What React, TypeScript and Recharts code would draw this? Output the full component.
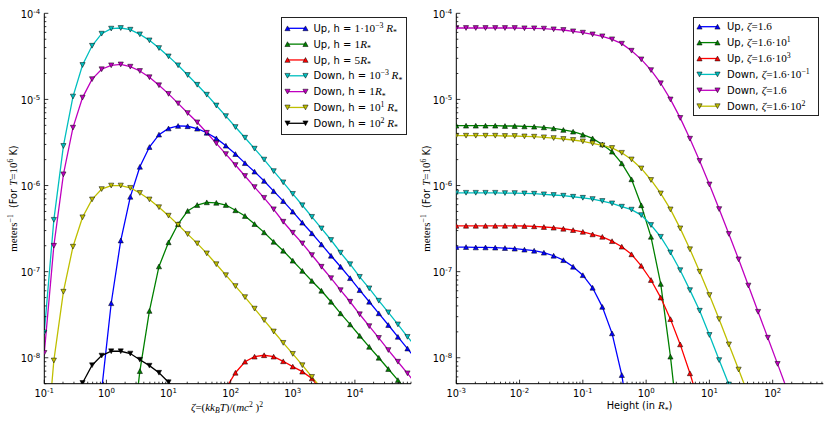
import React from "react";
import { LineChart, Line, XAxis, YAxis, Legend } from "recharts";

// x grids (log spaced sample points of the curves)
const zeta = [
  0.1, 0.1425, 0.2031, 0.2894, 0.4125, 0.5878, 0.8377, 1.194, 1.701, 2.424,
  3.455, 4.924, 7.017, 10, 14.25, 20.31, 28.94, 41.25, 58.78, 83.77,
  119.4, 170.1, 242.4, 345.5, 492.4, 701.7, 1000, 1425, 2031, 2894,
  4125, 5878, 8377, 11940, 17010, 24240, 34550, 49240, 70170, 100000,
];
const height = [
  0.001, 0.001425, 0.002031, 0.002894, 0.004125, 0.005878, 0.008377, 0.01194, 0.01701, 0.02424,
  0.03455, 0.04924, 0.07017, 0.1, 0.1425, 0.2031, 0.2894, 0.4125, 0.5878, 0.8377,
  1.194, 1.701, 2.424, 3.455, 4.924, 7.017, 10, 14.25, 20.31, 28.94,
  41.25, 58.78, 83.77, 119.4, 170.1, 242.4, 345.5, 492.4, 701.7,
];

// left panel: rate vs zeta, one series per height
const upH1e3 = [
  null, null, null, null, null, null, 4.2e-9, 4.3e-8, 2.3e-7, 7.4e-7,
  1.65e-6, 2.8e-6, 3.9e-6, 4.6e-6, 4.92e-6, 4.88e-6, 4.57e-6, 4.1e-6, 3.53e-6, 2.9e-6,
  2.32e-6, 1.82e-6, 1.45e-6, 1.13e-6, 8.6e-7, 6.6e-7, 4.97e-7, 3.7e-7, 2.79e-7, 2.07e-7,
  1.53e-7, 1.14e-7, 8.4e-8, 6.1e-8, 4.47e-8, 3.28e-8, 2.4e-8, 1.75e-8, 1.28e-8, 9.3e-9,
];
const upH1 = [
  null, null, null, null, null, null, null, null, null, 7.9e-10,
  7.0e-9, 3.5e-8, 1.15e-7, 2.19e-7, 3.57e-7, 5.07e-7, 5.94e-7, 6.38e-7, 6.3e-7, 5.94e-7,
  5.16e-7, 4.43e-7, 3.57e-7, 2.86e-7, 2.22e-7, 1.75e-7, 1.34e-7, 1.02e-7, 7.8e-8, 6.0e-8,
  4.47e-8, 3.28e-8, 2.44e-8, 1.8e-8, 1.34e-8, 1.0e-8, 7.4e-9, 5.5e-9, 4.1e-9, null,
];
const upH5 = [
  null, null, null, null, null, null, null, null, null, null,
  null, null, null, null, null, null, null, null, null, 4.4e-9,
  6.7e-9, 9.0e-9, 1.03e-8, 1.07e-8, 1.03e-8, 9.1e-9, 7.9e-9, 6.9e-9, 5.75e-9, 4.1e-9,
  null, null, null, null, null, null, null, null, null, null,
];
const downH1e3 = [
  1.97e-8, 4.0e-7, 2.88e-6, 1.08e-5, 2.51e-5, 4.2e-5, 5.8e-5, 6.64e-5, 6.75e-5, 6.45e-5,
  5.7e-5, 4.85e-5, 3.95e-5, 3.16e-5, 2.49e-5, 1.92e-5, 1.48e-5, 1.135e-5, 8.5e-6, 6.4e-6,
  4.78e-6, 3.59e-6, 2.68e-6, 2.0e-6, 1.47e-6, 1.09e-6, 8.0e-7, 5.9e-7, 4.33e-7, 3.18e-7,
  2.33e-7, 1.66e-7, 1.22e-7, 8.7e-8, 6.4e-8, 4.6e-8, 3.37e-8, 2.44e-8, 1.75e-8, 1.29e-8,
];
const downH1 = [
  1.14e-8, 2.0e-7, 1.35e-6, 4.7e-6, 1.05e-5, 1.72e-5, 2.24e-5, 2.49e-5, 2.55e-5, 2.4e-5,
  2.14e-5, 1.81e-5, 1.46e-5, 1.16e-5, 9.0e-6, 6.95e-6, 5.42e-6, 4.1e-6, 3.09e-6, 2.32e-6,
  1.73e-6, 1.29e-6, 9.6e-7, 7.2e-7, 5.3e-7, 3.8e-7, 2.83e-7, 2.13e-7, 1.56e-7, 1.14e-7,
  8.4e-8, 6.1e-8, 4.47e-8, 3.2e-8, 2.33e-8, 1.7e-8, 1.23e-8, 9.0e-9, 6.6e-9, 4.8e-9,
];
const downH10 = [
  4.8e-10, 9.3e-9, 5.85e-8, 1.95e-7, 4.28e-7, 6.9e-7, 9.1e-7, 1.0e-6, 1.0e-6, 9.4e-7,
  8.2e-7, 6.9e-7, 5.6e-7, 4.47e-7, 3.5e-7, 2.73e-7, 2.13e-7, 1.63e-7, 1.22e-7, 9.1e-8,
  6.8e-8, 5.06e-8, 3.72e-8, 2.74e-8, 2.02e-8, 1.49e-8, 1.11e-8, 8.2e-9, 6.0e-9, 4.4e-9,
  null, null, null, null, null, null, null, null, null, null,
];
const downH100 = [
  null, null, null, 2.5e-9, 5.1e-9, 8.2e-9, 1.06e-8, 1.19e-8, 1.19e-8, 1.12e-8,
  9.5e-9, 8.1e-9, 6.7e-9, 5.2e-9, 4.0e-9, null, null, null, null, null,
  null, null, null, null, null, null, null, null, null, null,
  null, null, null, null, null, null, null, null, null, null,
];

// right panel: rate vs height, one series per zeta
const upZ1p6 = [
  1.93e-7, 1.93e-7, 1.91e-7, 1.91e-7, 1.9e-7, 1.88e-7, 1.85e-7, 1.8e-7, 1.75e-7, 1.66e-7,
  1.53e-7, 1.36e-7, 1.14e-7, 9.1e-8, 6.5e-8, 3.9e-8, 1.92e-8, 6.3e-9, 1.26e-9, null,
  null, null, null, null, null, null, null, null, null, null,
  null, null, null, null, null, null, null, null, null,
];
const upZ16 = [
  4.95e-6, 4.95e-6, 4.95e-6, 4.95e-6, 4.95e-6, 4.91e-6, 4.91e-6, 4.86e-6, 4.82e-6, 4.74e-6,
  4.61e-6, 4.42e-6, 4.22e-6, 3.89e-6, 3.53e-6, 3.0e-6, 2.47e-6, 1.81e-6, 1.18e-6, 5.9e-7,
  2.54e-7, 7.2e-8, 1.03e-8, 1.0e-9, null, null, null, null, null, null,
  null, null, null, null, null, null, null, null, null,
];
const upZ1600 = [
  3.41e-7, 3.41e-7, 3.41e-7, 3.41e-7, 3.41e-7, 3.41e-7, 3.41e-7, 3.39e-7, 3.36e-7, 3.3e-7,
  3.24e-7, 3.15e-7, 3.04e-7, 2.9e-7, 2.71e-7, 2.54e-7, 2.26e-7, 1.95e-7, 1.59e-7, 1.17e-7,
  8.0e-8, 5.0e-8, 2.81e-8, 1.43e-8, 6.6e-9, 2.8e-9, null, null, null, null,
  null, null, null, null, null, null, null, null, null,
];
const downZ0p16 = [
  8.24e-7, 8.24e-7, 8.24e-7, 8.24e-7, 8.24e-7, 8.18e-7, 8.18e-7, 8.11e-7, 8.04e-7, 7.91e-7,
  7.76e-7, 7.62e-7, 7.41e-7, 7.21e-7, 6.97e-7, 6.61e-7, 6.21e-7, 5.68e-7, 5.25e-7, 4.54e-7,
  3.48e-7, 2.54e-7, 1.67e-7, 1.04e-7, 6.1e-8, 3.52e-8, 1.84e-8, 9.4e-9, 4.9e-9, null,
  null, null, null, null, null, null, null, null, null,
];
const downZ1p6 = [
  6.75e-5, 6.75e-5, 6.75e-5, 6.75e-5, 6.75e-5, 6.75e-5, 6.75e-5, 6.7e-5, 6.7e-5, 6.64e-5,
  6.52e-5, 6.4e-5, 6.18e-5, 5.96e-5, 5.7e-5, 5.41e-5, 4.99e-5, 4.44e-5, 3.68e-5, 2.92e-5,
  2.19e-5, 1.54e-5, 1.0e-5, 6.1e-6, 3.5e-6, 1.93e-6, 1.03e-6, 5.33e-7, 2.74e-7, 1.39e-7,
  6.9e-8, 3.42e-8, 1.71e-8, 8.5e-9, 4.2e-9, null, null, null, null,
];
const downZ160 = [
  3.79e-6, 3.79e-6, 3.79e-6, 3.79e-6, 3.79e-6, 3.76e-6, 3.76e-6, 3.72e-6, 3.69e-6, 3.63e-6,
  3.56e-6, 3.47e-6, 3.38e-6, 3.26e-6, 3.09e-6, 2.93e-6, 2.73e-6, 2.4e-6, 2.01e-6, 1.58e-6,
  1.16e-6, 8.1e-7, 5.28e-7, 3.18e-7, 1.82e-7, 9.98e-8, 5.35e-8, 2.81e-8, 1.43e-8, 7.3e-9,
  3.7e-9, null, null, null, null, null, null, null, null,
];

// axis decades (minor ticks 2..9 are added between them)
const zetaDecades = [0.1, 1, 10, 100, 1000, 10000];
const heightDecades = [0.001, 0.01, 0.1, 1, 10, 100];
const yDecades = [1e-9, 1e-8, 1e-7, 1e-6, 1e-5, 1e-4];

const SANS = "'DejaVu Sans', sans-serif";
const SERIF = "'Liberation Serif', 'DejaVu Serif', serif";
const FS = 9.5;
const LEGEND_FS = 10;

const C = {
  blue: "#0000ff",
  green: "#008000",
  red: "#ff0000",
  cyan: "#00bfbf",
  magenta: "#bf00bf",
  yellow: "#bfbf00",
  black: "#000000",
};

type Seg = { t: string; k?: "sans" | "rm" | "it"; s?: number };

function rich(segs: Seg[], size: number) {
  let prev = 0;
  return segs.map((g, n) => {
    const s = g.s ?? 0;
    const dy = s - prev;
    prev = s;
    const base = g.k && g.k !== "sans" ? size * 1.12 : size;
    return (
      <tspan
        key={n}
        dy={dy}
        fontFamily={g.k && g.k !== "sans" ? SERIF : SANS}
        fontStyle={g.k === "it" ? "italic" : "normal"}
        fontSize={s !== 0 ? base * 0.7 : base}
      >
        {g.t}
      </tspan>
    );
  });
}

const Rs: Seg[] = [{ t: "R", k: "it" }, { t: "*", k: "rm", s: 3.5 }];

const leftLegend = [
  { color: C.blue, up: true, segs: [{ t: "Up, h = " }, { t: "1·10", k: "rm" }, { t: "−3", k: "rm", s: -4 }, { t: " ", k: "rm" }, ...Rs] },
  { color: C.green, up: true, segs: [{ t: "Up, h = " }, { t: "1", k: "rm" }, ...Rs] },
  { color: C.red, up: true, segs: [{ t: "Up, h = " }, { t: "5", k: "rm" }, ...Rs] },
  { color: C.cyan, up: false, segs: [{ t: "Down, h = " }, { t: "10", k: "rm" }, { t: "−3", k: "rm", s: -4 }, { t: " ", k: "rm" }, ...Rs] },
  { color: C.magenta, up: false, segs: [{ t: "Down, h = " }, { t: "1", k: "rm" }, ...Rs] },
  { color: C.yellow, up: false, segs: [{ t: "Down, h = " }, { t: "10", k: "rm" }, { t: "1", k: "rm", s: -4 }, { t: " ", k: "rm" }, ...Rs] },
  { color: C.black, up: false, segs: [{ t: "Down, h = " }, { t: "10", k: "rm" }, { t: "2", k: "rm", s: -4 }, { t: " ", k: "rm" }, ...Rs] },
];

const zetaEq: Seg[] = [{ t: "ζ", k: "it" }, { t: "=1.6", k: "rm" }];
const rightLegend = [
  { color: C.blue, up: true, segs: [{ t: "Up, " }, ...zetaEq] },
  { color: C.green, up: true, segs: [{ t: "Up, " }, ...zetaEq, { t: "·10", k: "rm" }, { t: "1", k: "rm", s: -4 }] },
  { color: C.red, up: true, segs: [{ t: "Up, " }, ...zetaEq, { t: "·10", k: "rm" }, { t: "3", k: "rm", s: -4 }] },
  { color: C.cyan, up: false, segs: [{ t: "Down, " }, ...zetaEq, { t: "·10", k: "rm" }, { t: "−1", k: "rm", s: -4 }] },
  { color: C.magenta, up: false, segs: [{ t: "Down, " }, ...zetaEq] },
  { color: C.yellow, up: false, segs: [{ t: "Down, " }, ...zetaEq, { t: "·10", k: "rm" }, { t: "2", k: "rm", s: -4 }] },
];

const yLabel: Seg[] = [
  { t: "meters", k: "rm" },
  { t: "−1", k: "rm", s: -4 },
  { t: "  (For " },
  { t: "T", k: "it" },
  { t: "=10", k: "rm" },
  { t: "6", k: "rm", s: -4 },
  { t: " K)" },
];
const zetaLabel: Seg[] = [
  { t: "ζ", k: "it" },
  { t: "=(", k: "rm" },
  { t: "kk", k: "it" },
  { t: "B", k: "it", s: 2.5 },
  { t: "T", k: "it" },
  { t: ")/(", k: "rm" },
  { t: "mc", k: "it" },
  { t: "2", k: "rm", s: -4 },
  { t: " )", k: "rm" },
  { t: "2", k: "rm", s: -4 },
];
const heightLabel: Seg[] = [{ t: "Height (in " }, ...Rs, { t: ")" }];

function withMinor(decades: number[], lo: number, hi: number) {
  const out: number[] = [];
  for (const d of decades) {
    for (let k = 1; k < 10; k++) {
      const v = d * k;
      if (v >= lo * 0.999 && v <= hi * 1.001) out.push(v);
    }
  }
  return out;
}

function isMajor(v: number) {
  const l = Math.log10(v);
  return Math.abs(l - Math.round(l)) < 1e-6;
}

function expLabel(v: number) {
  const e = Math.round(Math.log10(v));
  return e < 0 ? `-${-e}` : `${e}`;
}

const TICK = "#000";

const BottomTick = (p: any) => {
  const major = isMajor(p.payload.value);
  return (
    <g>
      <line x1={p.x} x2={p.x} y1={p.y} y2={p.y - (major ? 4 : 2)} stroke={TICK} strokeWidth={0.8} />
      {major && (
        <text x={p.x} y={p.y + 13.3} textAnchor="middle" fontFamily={SANS} fontSize={FS + 0.3} fill="#000">
          10<tspan dy={-4} fontSize={7}>{expLabel(p.payload.value)}</tspan>
        </text>
      )}
    </g>
  );
};

const TopTick = (p: any) => {
  const major = isMajor(p.payload.value);
  return <line x1={p.x} x2={p.x} y1={p.y} y2={p.y + (major ? 4 : 2)} stroke={TICK} strokeWidth={0.8} />;
};

const LeftTick = (p: any) => {
  const major = isMajor(p.payload.value);
  return (
    <g>
      <line x1={p.x} x2={p.x + (major ? 4 : 2)} y1={p.y} y2={p.y} stroke={TICK} strokeWidth={0.8} />
      {major && (
        <text x={p.x - 4} y={p.y + 4.5} textAnchor="end" fontFamily={SANS} fontSize={FS + 0.3} fill="#000">
          10<tspan dy={-4} fontSize={7}>{expLabel(p.payload.value)}</tspan>
        </text>
      )}
    </g>
  );
};

const RightTick = (p: any) => {
  const major = isMajor(p.payload.value);
  return <line x1={p.x} x2={p.x - (major ? 4 : 2)} y1={p.y} y2={p.y} stroke={TICK} strokeWidth={0.8} />;
};

function triangle(cx: number, cy: number, up: boolean) {
  const w = 2.6;
  const h = 2.4;
  return up
    ? `M${cx},${cy - h}L${cx + w},${cy + h}L${cx - w},${cy + h}Z`
    : `M${cx},${cy + h}L${cx + w},${cy - h}L${cx - w},${cy - h}Z`;
}

function marker(color: string, up: boolean) {
  return (p: any) => {
    const key = `m-${p.index}`;
    if (p.cx == null || p.cy == null || Number.isNaN(p.cy) || p.value == null) return <g key={key} />;
    return <path key={key} d={triangle(p.cx, p.cy, up)} fill={color} stroke="#000" strokeWidth={0.5} />;
  };
}

type Entry = { color: string; up: boolean; segs: Seg[] };

function LegendBox({ entries, w, h, first, pitch, textX }: { entries: Entry[]; w: number; h: number; first: number; pitch: number; textX: number }) {
  return (
    <svg width={w} height={h} style={{ display: "block" }}>
      <rect x={0.5} y={0.5} width={w - 1} height={h - 1} fill="#fff" stroke="#222" strokeWidth={1} />
      {entries.map((e, n) => {
        const cy = first + n * pitch;
        return (
          <g key={n}>
            <line x1={6.5} x2={24.5} y1={cy} y2={cy} stroke={e.color} strokeWidth={1.3} />
            <path d={triangle(6.5, cy, e.up)} fill={e.color} stroke="#000" strokeWidth={0.5} />
            <path d={triangle(24.5, cy, e.up)} fill={e.color} stroke="#000" strokeWidth={0.5} />
            <text x={textX} y={cy + 3.6} fill="#000" style={{ whiteSpace: "pre" }}>
              {rich(e.segs, LEGEND_FS)}
            </text>
          </g>
        );
      })}
    </svg>
  );
}

function buildRows(xs: number[], series: Record<string, (number | null)[]>) {
  return xs.map((x, i) => {
    const row: Record<string, number | null> = { x };
    for (const k of Object.keys(series)) row[k] = series[k][i];
    return row;
  });
}

const leftRows = buildRows(zeta, { upH1e3, upH1, upH5, downH1e3, downH1, downH10, downH100 });
const rightRows = buildRows(height, { upZ1p6, upZ16, upZ1600, downZ0p16, downZ1p6, downZ160 });

const leftSeries = [
  { key: "upH1e3", color: C.blue, up: true },
  { key: "upH1", color: C.green, up: true },
  { key: "upH5", color: C.red, up: true },
  { key: "downH1e3", color: C.cyan, up: false },
  { key: "downH1", color: C.magenta, up: false },
  { key: "downH10", color: C.yellow, up: false },
  { key: "downH100", color: C.black, up: false },
];
const rightSeries = [
  { key: "upZ1p6", color: C.blue, up: true },
  { key: "upZ16", color: C.green, up: true },
  { key: "upZ1600", color: C.red, up: true },
  { key: "downZ0p16", color: C.cyan, up: false },
  { key: "downZ1p6", color: C.magenta, up: false },
  { key: "downZ160", color: C.yellow, up: false },
];

const Y_DOMAIN: [number, number] = [5e-9, 1e-4];
const yTicks = withMinor(yDecades, Y_DOMAIN[0], Y_DOMAIN[1]);

type PanelProps = {
  rows: any[];
  series: { key: string; color: string; up: boolean }[];
  xDomain: [number, number];
  xTicks: number[];
  rightMargin: number;
  xLabel: Seg[];
  xLabelX: number;
  xLabelY: number;
  yLabelX: number;
  legend: React.ReactNode;
};

function Panel({ rows, series, xDomain, xTicks, rightMargin, xLabel, xLabelX, xLabelY, yLabelX, legend }: PanelProps) {
  const common = {
    type: "number" as const,
    scale: "log" as const,
    allowDataOverflow: true,
    interval: 0 as const,
    tickSize: 0,
    tickMargin: 0,
    tickLine: false,
    axisLine: { stroke: "#000", strokeWidth: 1 },
  };
  return (
    <LineChart width={415} height={421} data={rows} margin={{ top: 13.3, right: rightMargin, bottom: 0, left: 0 }}>
      <XAxis
        {...common}
        xAxisId="b"
        dataKey="x"
        domain={xDomain}
        ticks={xTicks}
        height={37.3}
        tick={BottomTick}
        label={() => (
          <text x={xLabelX} y={xLabelY} textAnchor="middle" fill="#000" style={{ whiteSpace: "pre" }}>
            {rich(xLabel, FS + 0.3)}
          </text>
        )}
      />
      <XAxis {...common} xAxisId="t" orientation="top" dataKey="x" domain={xDomain} ticks={xTicks} height={0} tick={TopTick} />
      <YAxis
        {...common}
        yAxisId="l"
        domain={Y_DOMAIN}
        ticks={yTicks}
        width={44.3}
        tick={LeftTick}
        label={() => (
          <text
            transform={`translate(${yLabelX},198.5) rotate(-90)`}
            x={0}
            y={0}
            textAnchor="middle"
            fill="#000"
            style={{ whiteSpace: "pre" }}
          >
            {rich(yLabel, FS + 0.3)}
          </text>
        )}
      />
      <YAxis {...common} yAxisId="r" orientation="right" domain={Y_DOMAIN} ticks={yTicks} width={0} tick={RightTick} />
      {series.map((s) => (
        <Line
          key={s.key}
          xAxisId="b"
          yAxisId="l"
          type="linear"
          dataKey={s.key}
          stroke={s.color}
          strokeWidth={1.3}
          dot={marker(s.color, s.up)}
          activeDot={false}
          isAnimationActive={false}
        />
      ))}
      <Legend
        layout="horizontal"
        verticalAlign="middle"
        align="center"
        content={() => legend}
        wrapperStyle={{ left: 281, top: 17, width: "auto", height: "auto" }}
      />
    </LineChart>
  );
}

export default function App() {
  return (
    <div style={{ position: "absolute", left: 0, top: 0, width: 831, height: 421, background: "#fff" }}>
      <div style={{ position: "absolute", left: 0, top: 0 }}>
        <Panel
          rows={leftRows}
          series={leftSeries}
          xDomain={[0.1, 80000]}
          xTicks={withMinor(zetaDecades, 0.1, 80000)}
          rightMargin={4}
          xLabel={zetaLabel}
          xLabelX={227}
          xLabelY={410.5}
          yLabelX={16.5}
          legend={<LegendBox entries={leftLegend} w={126} h={118} first={11.3} pitch={15.83} textX={32.5} />}
        />
      </div>
      <div style={{ position: "absolute", left: 412, top: 0 }}>
        <Panel
          rows={rightRows}
          series={rightSeries}
          xDomain={[0.001, 631]}
          xTicks={withMinor(heightDecades, 0.001, 631)}
          rightMargin={3.7}
          xLabel={heightLabel}
          xLabelX={227.5}
          xLabelY={409}
          yLabelX={17.5}
          legend={<LegendBox entries={rightLegend} w={126} h={99} first={9.7} pitch={15.9} textX={34} />}
        />
      </div>
    </div>
  );
}
